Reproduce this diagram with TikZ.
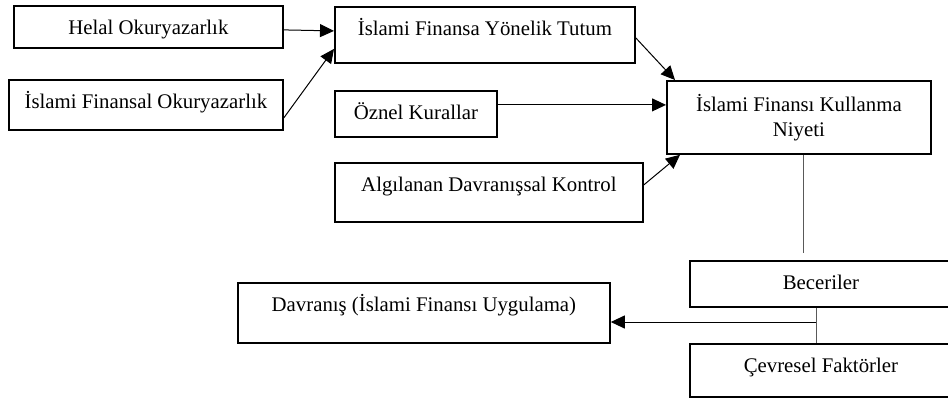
\documentclass[tikz,border=0pt]{standalone}
\usepackage{fontspec}
\setmainfont{Liberation Serif}
\usepackage{tikz}
\usetikzlibrary{arrows.meta}

\begin{document}
\begin{tikzpicture}[x=0.5pt,y=-0.5pt,
  font=\fontsize{10.4}{12.5}\selectfont,
  frame/.style={draw,line width=0.9pt,inner sep=0pt,anchor=north west,align=center},
  box/.style={frame,text height=14.25pt},
  arrow/.style={line width=0.5pt,-{Triangle[length=7pt,width=6.5pt]}},
  link/.style={line width=0.5pt,draw=black!65}]
\useasboundingbox (0,0) rectangle (948,397);

% Draw boxes
\node[box,minimum width=134.5pt,text depth=6.75pt] (helal) at (13,5) {Helal Okuryazarlık};
\node[box,minimum width=137pt,text depth=10.75pt] (ifo) at (8,79) {İslami Finansal Okuryazarlık};
\node[box,minimum width=150pt,text depth=13.75pt] (tutum) at (334,6) {İslami Finansa Yönelik Tutum};
\node[box,minimum width=81pt,text depth=8.75pt] (oznel) at (334,90) {Öznel Kurallar};
\node[box,minimum width=154pt,text depth=15.25pt] (adk) at (334,162) {Algılanan Davranışsal Kontrol};
\node[frame,minimum width=132pt,minimum height=36.5pt] (niyet) at (666,80) {İslami Finansı Kullanma\\Niyeti};
\node[box,minimum width=131pt,text depth=8.75pt] (beceri) at (689,260) {Beceriler};
\node[box,minimum width=131pt,text depth=12.25pt] (cevre) at (689,343) {Çevresel Faktörler};
\node[box,minimum width=186pt,text depth=15.75pt] (davranis) at (237,282) {Davranış (İslami Finansı Uygulama)};

% Free ends of the plain lines
\coordinate (drop) at (803,253);
\coordinate (split) at (816,322);

% Draw arrows
\draw[arrow] ([yshift=-1.5pt]helal.east) -- ([yshift=2pt]tutum.west);
\draw[arrow] ([yshift=-6.5pt]ifo.east) -- ([yshift=-7pt]tutum.west);
\draw[arrow] ([yshift=-1.5pt]tutum.east) -- ([xshift=4.5pt]niyet.north west);
\draw[arrow] ([yshift=4.5pt]oznel.east) -- ([yshift=4.5pt]oznel.east -| niyet.west);
\draw[arrow] ([yshift=3.75pt]adk.east) -- ([xshift=7pt]niyet.south west);

% Lines to the lower boxes
\draw[link] (drop |- niyet.south) -- (drop);
\draw[link] (split |- beceri.south) -- (split |- cevre.north);
\draw[arrow] (split) -- (split -| davranis.east);
\end{tikzpicture}
\end{document}
